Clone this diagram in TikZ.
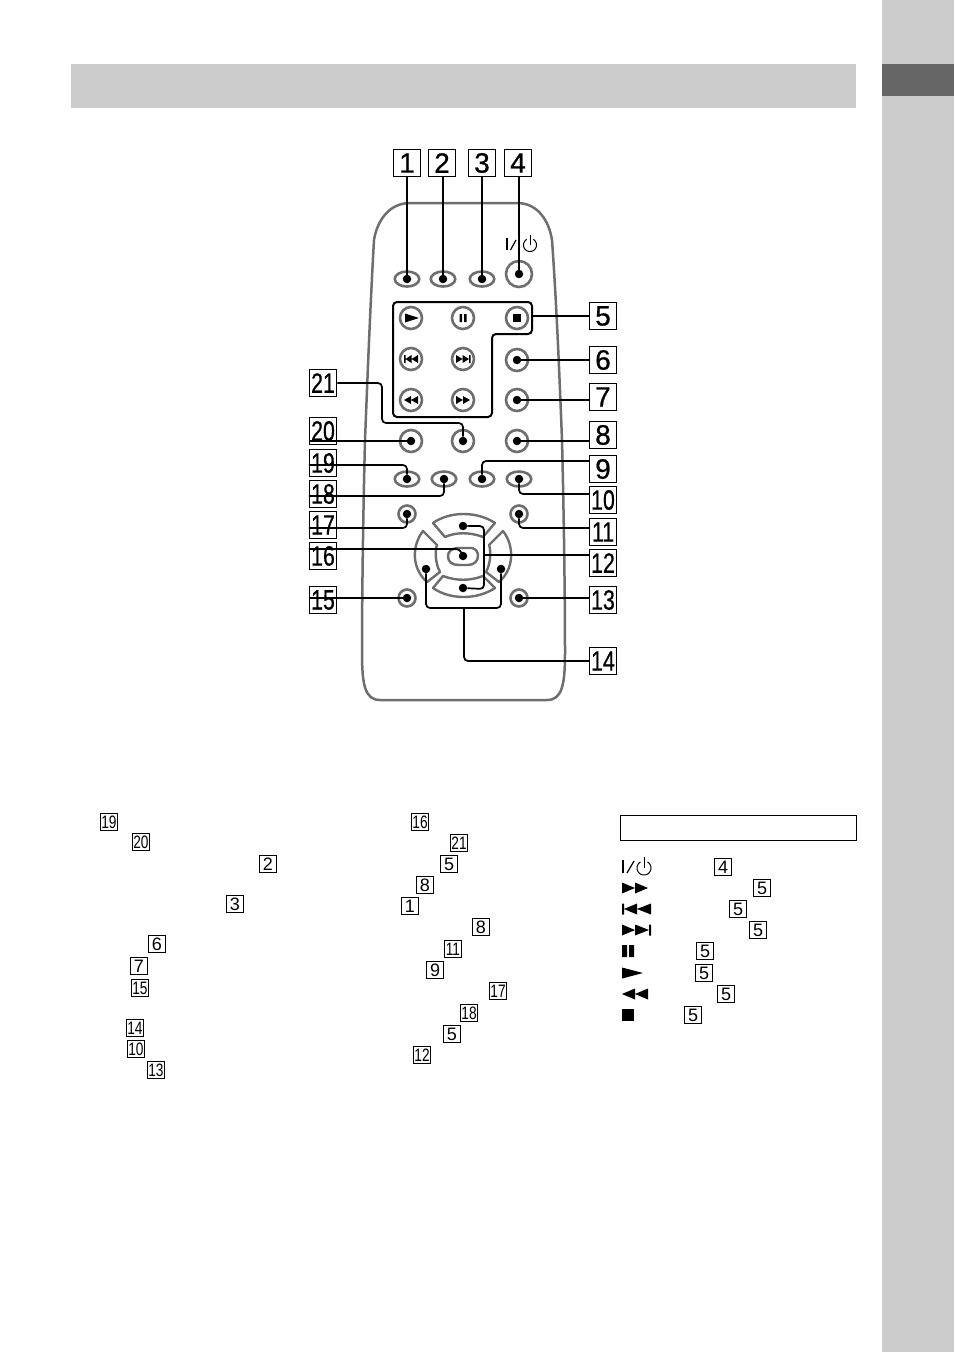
\documentclass[tikz,border=0pt]{standalone}
\usepackage{fontspec}
\setmainfont{Liberation Sans}
\newfontfamily\lblfont[FakeBold=0.7]{Liberation Sans}
\definecolor{band}{HTML}{CCCCCC}
\definecolor{tab}{HTML}{666666}
\definecolor{btn}{HTML}{6E6E6E}
\newcommand{\nn}[1]{\scalebox{0.76}[1]{#1}}
\usetikzlibrary{shapes.geometric}
\tikzset{
 bigbox/.style={draw=black,line width=1pt,fill=white,minimum width=27.5pt,minimum height=27.5pt,inner sep=0pt,font=\lblfont\fontsize{28}{28}\selectfont},
 smallbox/.style={draw=black,line width=0.9pt,fill=white,minimum width=17pt,minimum height=17pt,inner sep=0pt,font=\fontsize{18}{18}\selectfont},
 shell/.style={draw=btn,line width=2.5pt},
 oval/.style={draw=btn,line width=2.6pt,ellipse,minimum width=24.5pt,minimum height=15pt,inner sep=0pt},
 roundb/.style={draw=btn,line width=2.6pt,circle,minimum size=#1,inner sep=0pt},
 pad/.style={draw=btn,line width=2.4pt,line join=round},
 leader/.style={draw=black,line width=1.7pt,rounded corners=4pt},
 thick leader/.style={draw=black,line width=2.3pt},
 dotmark/.style={fill=black,circle,minimum size=8.5pt,inner sep=0pt},
 glyph/.style={fill=black,draw=none},
}
\begin{document}
\begin{tikzpicture}[x=1pt,y=-1pt]
\useasboundingbox (0,0) rectangle (954,1352);
\fill[white] (0,0) rectangle (954,1352);
\fill[band] (71,64) rectangle (856,108);
\fill[band] (882,0) rectangle (954,1352);
\fill[tab] (882,64) rectangle (954,96);
% body
\draw[shell] (410,203) -- (517,203)
  .. controls (538,203) and (549,221) .. (552,240)
  .. controls (557,310) and (560,390) .. (562,440)
  .. controls (564,520) and (565,600) .. (565,653)
  .. controls (565,685) and (562,700) .. (547,700)
  -- (380,700)
  .. controls (365,700) and (362,685) .. (362,653)
  .. controls (362,600) and (363,520) .. (365,440)
  .. controls (367,390) and (370,310) .. (374,240)
  .. controls (377,221) and (389,203) .. (410,203) -- cycle;
% buttons
\node[oval] (o1) at (407,279) {};
\node[oval] (o2) at (443,279) {};
\node[oval] (o3) at (482,279) {};
\node[roundb=26pt] (c4) at (519,274) {};
\node[roundb=22pt] (bplay) at (411,318) {};
\node[roundb=22pt] (bpause) at (463,318) {};
\node[roundb=22pt] (bstop) at (517,318) {};
\node[roundb=22pt] (bprev) at (411,359) {};
\node[roundb=22pt] (bnext) at (463,359) {};
\node[roundb=22pt] (c6) at (517,360) {};
\node[roundb=22pt] (brew) at (411,400) {};
\node[roundb=22pt] (bff) at (463,400) {};
\node[roundb=22pt] (c7) at (517,400) {};
\node[roundb=22pt] (c20) at (411,441) {};
\node[roundb=22pt] (c21) at (463,441) {};
\node[roundb=22pt] (c8) at (517,441) {};
\node[oval] (o19) at (407,479) {};
\node[oval] (o18) at (444,479) {};
\node[oval] (o9) at (482,479) {};
\node[oval] (o10) at (519,479) {};
\node[roundb=17pt] (c17) at (407,514) {};
\node[roundb=17pt] (c11) at (519,514) {};
\node[roundb=17pt] (c15) at (407,598) {};
\node[roundb=17pt] (c13) at (519,598) {};
% d-pad
\draw[pad] (433,523) .. controls (450,511) and (477,511) .. (495,523) -- (483,537)
  .. controls (470,532) and (456,532) .. (445,537) -- cycle;
\draw[pad] (433,588) .. controls (450,600) and (477,600) .. (495,588) -- (483,576)
  .. controls (470,581) and (456,581) .. (443,576) -- cycle;
\draw[pad] (423,531) .. controls (412,545) and (411,568) .. (427,582) -- (440,572)
  .. controls (435,563) and (435,550) .. (437,545) -- cycle;
\draw[pad] (503,531) .. controls (514,545) and (515,568) .. (499,582) -- (486,572)
  .. controls (491,563) and (491,550) .. (489,545) -- cycle;
\draw[pad] (472,548) -- (459,548) .. controls (451,548) and (448,552) .. (448,556)
  .. controls (448,562) and (452,565) .. (459,565) -- (468,565)
  .. controls (474,565) and (478,561) .. (478,556) .. controls (478,552) and (476,549) .. (472,548) -- cycle;
% button glyphs
\fill[glyph] (405,313.5) -- (419,318) -- (405,322.5) -- cycle;
\fill[glyph] (459.5,314) rectangle (462,322) (464,314) rectangle (466.5,322);
\fill[glyph] (513,314) rectangle (521,322);
\fill[glyph] (404,355) rectangle (405.5,363) (405.5,359) -- (411.5,355) -- (411.5,363) -- cycle (411.5,359) -- (418,355) -- (418,363) -- cycle;
\fill[glyph] (456,355) -- (462.5,359) -- (456,363) -- cycle (462.5,355) -- (469,359) -- (462.5,363) -- cycle (469,355) rectangle (470.5,363);
\fill[glyph] (404,400) -- (411,396) -- (411,404) -- cycle (411,400) -- (418,396) -- (418,404) -- cycle;
\fill[glyph] (456,396) -- (463,400) -- (456,404) -- cycle (463,396) -- (470,400) -- (463,404) -- cycle;
% power symbol on the remote
\draw[line width=2pt] (507,238) -- (507,250);
\draw[line width=1.2pt] (510.5,250) -- (516,240);
\draw[line width=1pt] plot[domain=-60:240,samples=40,smooth] ({530+6.5*cos(\x)},{245+6.5*sin(\x)});
\draw[line width=1pt] (530,235) -- (530,245);
% dots
\foreach \n/\x/\y in {d1/407/279,d2/443/279,d3/482/279,d4/519/274,d6/517/360,d7/517/400,d8/517/441,d20/411/441,d21/463/441,d19/407/479,d18/444/479,d9/482/479,d10/519/479,d17/407/514,d11/519/514,d15/407/598,d13/519/598,du/463/526,dd/463/588,dl/426/569,dr/501/569,dc/463/556}
  \node[dotmark] (\n) at (\x,\y) {};
% large labels
\foreach \n/\t/\x/\y in {b1/1/407/163,b2/2/442/163,b3/3/482/163,b4/4/518/163,b5/5/603/316,b6/6/603/360,b7/7/603/397,b8/8/603/435,b9/9/603/469,b10/\nn{10}/603/500,b11/\nn{11}/603/532,b12/\nn{12}/603/563,b13/\nn{13}/603/600,b14/\nn{14}/603/661,b21/\nn{21}/323/383,b20/\nn{20}/323/431,b19/\nn{19}/323/463,b18/\nn{18}/323/494,b17/\nn{17}/323/525,b16/\nn{16}/323/556,b15/\nn{15}/323/600}
  \node[bigbox] (\n) at (\x,\y) {\t};
% leaders
\draw[leader] (b1.south -| d1) -- (d1);
\draw[thick leader] (b2.south -| d2) -- (d2);
\draw[leader] (b3.south -| d3) -- (d3);
\draw[leader] (b4.south -| d4) -- (d4);
\coordinate (g5a) at (393,302); \coordinate (g5b) at (532,302); \coordinate (g5c) at (532,334);
\coordinate (g5d) at (492,334); \coordinate (g5e) at (492,417); \coordinate (g5f) at (393,417);
\draw[leader,line width=2pt] (g5a) -- (g5b) -- (g5c) -- (g5d) -- (g5e) -- (g5f) -- cycle;
\draw[leader] (532,316) -- (b5.west);
\draw[leader] (d6) -- (d6 -| b6.west);
\draw[leader] (d7) -- (d7 -| b7.west);
\draw[leader] (d8) -- (d8 -| b8.west);
\draw[leader] (d9) |- ([yshift=8pt]b9.west);
\draw[leader] (d10) |- ([yshift=6pt]b10.west);
\draw[leader] (d11) |- ([yshift=4pt]b11.west);
\draw[leader] (du) -- (484,526) -- (484,589) -- (dd);
\draw[leader] (484,555) -- (b12.west |- 484,555);
\draw[leader] (d13) -- (d13 -| b13.west);
\draw[leader] (dl) -- (426,608) -- (501,608) -- (dr);
\draw[leader] (464,608) -- (464,661) -- (b14.west);
\draw[leader] (d15) -- (d15 -| b15.west);
\draw[leader] (dc) -- (460,549) -- (b16.west |- 460,549);
\draw[leader] (d17) |- ([yshift=-3pt]b17.west);
\draw[leader] (d18) |- ([yshift=-2pt]b18.west);
\draw[leader] (d19) |- ([yshift=-2pt]b19.west);
\draw[leader] (d20) -- (d20 -| b20.west);
\draw[leader] (b21.east) -- (382,383) -- (382,423) -- (463,423) -- (d21);
% small labels
\foreach \n/\t/\x/\y in {s19/\nn{19}/109/822,s20/\nn{20}/141/842,s2/2/268/864,s3/3/235/904,s6/6/157/944,s7/7/139/966,s15/\nn{15}/140/988,s14/\nn{14}/135/1028,s10/\nn{10}/136/1049,s13/\nn{13}/156/1070,s16/\nn{16}/420/822,s21/\nn{21}/459/843,s5a/5/449/864,s8a/8/425/885,s1/1/410/906,s8b/8/481/927,s11/\nn{11}/453/949,s9/9/435/970,s17/\nn{17}/498/991,s18/\nn{18}/469/1013,s5b/5/452/1034,s12/\nn{12}/422/1055,l4/4/723/867,l5a/5/762/888,l5b/5/738/909,l5c/5/758/930,l5d/5/705/951,l5e/5/704/973,l5f/5/726/994,l5g/5/693/1015}
  \node[smallbox] (\n) at (\x,\y) {\t};
% legend
\node[draw=black,line width=1pt,minimum width=236pt,minimum height=25pt,inner sep=0pt] (legend) at (738.5,828) {};
\draw[line width=2.2pt] (623,860) -- (623,873);
\draw[line width=1.2pt] (627,873) -- (634,861);
\draw[line width=1pt] plot[domain=-60:240,samples=40,smooth] ({644+7*cos(\x)},{868+7*sin(\x)});
\draw[line width=1pt] (644,857) -- (644,868);
\fill[glyph] (622,882.5) -- (635,888) -- (622,893.5) -- cycle (635,882.5) -- (648,888) -- (635,893.5) -- cycle;
\fill[glyph] (622,903.5) rectangle (624,914.5) (624,909) -- (637,903.5) -- (637,914.5) -- cycle (637,909) -- (651,903.5) -- (651,914.5) -- cycle;
\fill[glyph] (622,924.5) -- (635,930) -- (622,935.5) -- cycle (635,924.5) -- (649,930) -- (635,935.5) -- cycle (649,924.5) rectangle (651,935.5);
\fill[glyph] (622,945) rectangle (627,957) (629,945) rectangle (634,957);
\fill[glyph] (622,967.5) -- (643,973) -- (622,978.5) -- cycle;
\fill[glyph] (622,994) -- (635,988.5) -- (635,999.5) -- cycle (635,994) -- (648,988.5) -- (648,999.5) -- cycle;
\fill[glyph] (622,1009) rectangle (634,1021);
\end{tikzpicture}
\end{document}
